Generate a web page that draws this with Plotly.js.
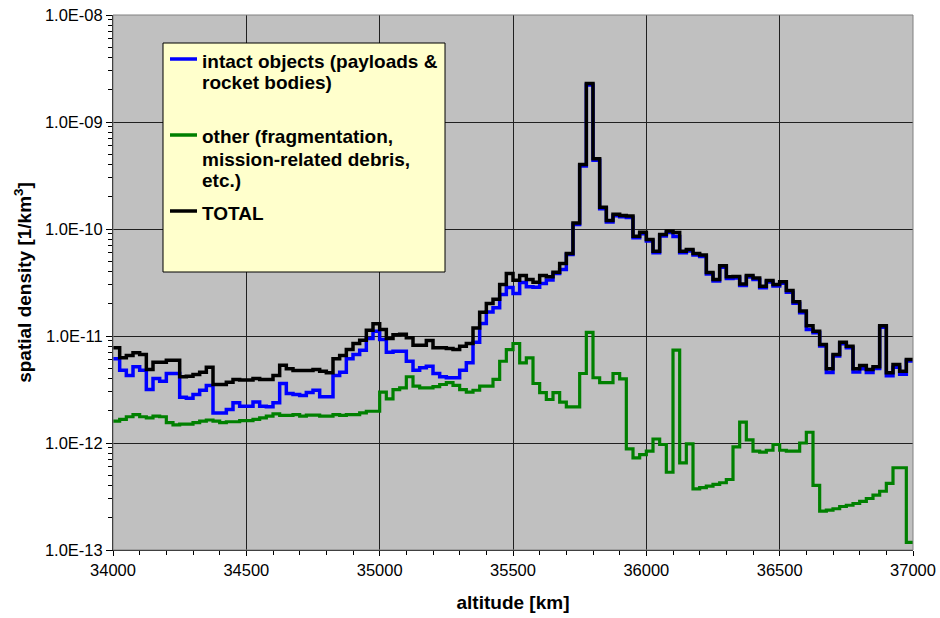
<!DOCTYPE html>
<html>
<head>
<meta charset="utf-8">
<script src="https://cdn.plot.ly/plotly-3.0.1.min.js"></script>
<style>
  html, body { margin: 0; padding: 0; background: #ffffff; }
  #chart { width: 940px; height: 618px; }
</style>
</head>
<body>
<div id="chart"></div>
<script>
// Altitude bin starts [km], 25 km bins, plus the closing edge 37000
const altitude = [
  34000,34025,34050,34075,34100,34125,34150,34175,34200,34225,
  34250,34275,34300,34325,34350,34375,34400,34425,34450,34475,
  34500,34525,34550,34575,34600,34625,34650,34675,34700,34725,
  34750,34775,34800,34825,34850,34875,34900,34925,34950,34975,
  35000,35025,35050,35075,35100,35125,35150,35175,35200,35225,
  35250,35275,35300,35325,35350,35375,35400,35425,35450,35475,
  35500,35525,35550,35575,35600,35625,35650,35675,35700,35725,
  35750,35775,35800,35825,35850,35875,35900,35925,35950,35975,
  36000,36025,36050,36075,36100,36125,36150,36175,36200,36225,
  36250,36275,36300,36325,36350,36375,36400,36425,36450,36475,
  36500,36525,36550,36575,36600,36625,36650,36675,36700,36725,
  36750,36775,36800,36825,36850,36875,36900,36925,36950,36975,
  37000
];

// intact objects (payloads & rocket bodies) [1/km^3]
const intact = [
  6.12e-12,4.79e-12,4.28e-12,5.15e-12,4.79e-12,3.16e-12,4.01e-12,3.78e-12,4.46e-12,4.46e-12,
  2.68e-12,2.62e-12,2.84e-12,3.11e-12,3.45e-12,1.91e-12,1.91e-12,2.06e-12,2.38e-12,2.21e-12,
  2.21e-12,2.41e-12,2.21e-12,2.18e-12,2.38e-12,3.60e-12,2.90e-12,2.84e-12,2.78e-12,2.96e-12,
  3.11e-12,2.70e-12,2.70e-12,4.28e-12,4.59e-12,6.12e-12,6.71e-12,7.37e-12,9.48e-12,1.11e-11,
  9.27e-12,7.06e-12,7.21e-12,7.21e-12,5.81e-12,4.79e-12,5.04e-12,5.21e-12,4.46e-12,4.16e-12,
  4.07e-12,4.07e-12,4.79e-12,5.61e-12,8.75e-12,1.31e-11,1.68e-11,1.84e-11,2.44e-11,2.84e-11,
  2.50e-11,3.16e-11,2.88e-11,2.86e-11,3.10e-11,3.33e-11,3.84e-11,4.19e-11,5.78e-11,1.10e-10,
  3.88e-10,2.22e-9,4.38e-10,1.55e-10,1.16e-10,1.33e-10,1.30e-10,1.28e-10,8.28e-11,9.03e-11,
  7.71e-11,6.00e-11,8.59e-11,9.27e-11,8.50e-11,6.00e-11,6.22e-11,5.71e-11,5.53e-11,3.80e-11,
  3.26e-11,4.38e-11,3.45e-11,3.48e-11,2.97e-11,3.56e-11,3.38e-11,2.83e-11,3.19e-11,2.93e-11,
  3.11e-11,2.57e-11,2.02e-11,1.65e-11,1.15e-11,1.07e-11,8.05e-12,4.55e-12,6.49e-12,8.47e-12,
  7.77e-12,4.60e-12,4.95e-12,4.55e-12,4.98e-12,1.21e-11,4.25e-12,5.10e-12,4.40e-12,5.83e-12
];

// other (fragmentation, mission-related debris, etc.) [1/km^3]
const other = [
  1.60e-12,1.66e-12,1.76e-12,1.84e-12,1.76e-12,1.72e-12,1.78e-12,1.76e-12,1.55e-12,1.48e-12,
  1.50e-12,1.50e-12,1.55e-12,1.60e-12,1.64e-12,1.60e-12,1.55e-12,1.58e-12,1.58e-12,1.62e-12,
  1.62e-12,1.66e-12,1.72e-12,1.78e-12,1.87e-12,1.81e-12,1.81e-12,1.84e-12,1.78e-12,1.82e-12,
  1.82e-12,1.78e-12,1.78e-12,1.84e-12,1.81e-12,1.84e-12,1.84e-12,1.91e-12,1.98e-12,1.98e-12,
  2.99e-12,2.58e-12,3.16e-12,3.28e-12,4.16e-12,3.40e-12,3.28e-12,3.28e-12,3.36e-12,3.52e-12,
  3.66e-12,3.45e-12,3.16e-12,2.99e-12,3.11e-12,3.40e-12,3.40e-12,3.93e-12,5.81e-12,7.47e-12,
  8.51e-12,5.61e-12,6.25e-12,3.60e-12,2.96e-12,2.55e-12,2.96e-12,2.41e-12,2.18e-12,2.18e-12,
  4.46e-12,1.08e-11,4.07e-12,3.66e-12,3.66e-12,4.46e-12,3.98e-12,8.83e-13,7.27e-13,7.80e-13,
  8.38e-13,1.09e-12,9.68e-13,5.33e-13,7.37e-12,6.53e-13,9.83e-13,3.73e-13,3.82e-13,3.95e-13,
  4.10e-13,4.25e-13,4.56e-13,9.21e-13,1.57e-12,1.07e-12,8.38e-13,8.20e-13,8.56e-13,9.68e-13,
  8.56e-13,8.38e-13,8.38e-13,1.00e-12,1.26e-12,4.01e-13,2.31e-13,2.36e-13,2.43e-13,2.55e-13,
  2.62e-13,2.72e-13,2.85e-13,3.03e-13,3.26e-13,3.54e-13,4.19e-13,5.87e-13,5.87e-13,1.18e-13
];

// TOTAL [1/km^3]
const total = [
  7.75e-12,6.25e-12,6.57e-12,6.96e-12,6.71e-12,4.87e-12,5.69e-12,5.69e-12,5.94e-12,5.94e-12,
  4.16e-12,4.21e-12,4.37e-12,4.59e-12,5.11e-12,3.52e-12,3.52e-12,3.70e-12,3.93e-12,3.87e-12,
  3.87e-12,4.01e-12,3.93e-12,3.93e-12,4.28e-12,5.33e-12,4.94e-12,4.76e-12,4.76e-12,4.76e-12,
  4.87e-12,4.69e-12,4.53e-12,6.12e-12,6.57e-12,7.47e-12,8.51e-12,9.14e-12,1.13e-11,1.30e-11,
  1.15e-11,9.48e-12,1.03e-11,1.04e-11,9.62e-12,8.20e-12,8.20e-12,9.08e-12,7.75e-12,7.75e-12,
  7.64e-12,7.47e-12,8.03e-12,8.51e-12,1.19e-11,1.67e-11,2.01e-11,2.20e-11,3.03e-11,3.84e-11,
  3.32e-11,3.68e-11,3.37e-11,3.18e-11,3.68e-11,3.57e-11,3.95e-11,4.76e-11,5.90e-11,1.14e-10,
  4.01e-10,2.29e-9,4.53e-10,1.60e-10,1.20e-10,1.37e-10,1.34e-10,1.32e-10,8.56e-11,9.33e-11,
  7.97e-11,6.20e-11,8.88e-11,9.58e-11,9.27e-11,6.20e-11,6.43e-11,5.90e-11,5.72e-11,3.93e-11,
  3.37e-11,4.53e-11,3.57e-11,3.60e-11,3.07e-11,3.68e-11,3.49e-11,2.92e-11,3.30e-11,3.03e-11,
  3.21e-11,2.66e-11,2.09e-11,1.71e-11,1.25e-11,1.11e-11,8.32e-12,4.94e-12,6.71e-12,8.75e-12,
  8.03e-12,4.94e-12,5.30e-12,4.87e-12,5.15e-12,1.25e-11,4.53e-12,5.41e-12,4.69e-12,6.03e-12
];

const yTickVals = [1e-13, 1e-12, 1e-11, 1e-10, 1e-9, 1e-8];
const yTickText = ["1.0E-13", "1.0E-12", "1.0E-11", "1.0E-10", "1.0E-09", "1.0E-08"];
const xTickVals = [34000, 34500, 35000, 35500, 36000, 36500, 37000];

const legendLabels = {
  intact: ["intact objects (payloads &", "rocket bodies)"],
  other: ["other (fragmentation,", "mission-related debris,", "etc.)"],
  total: ["TOTAL"]
};

// step series: repeat the last bin value at the closing edge
function closed(vals) { return vals.concat([vals[vals.length - 1]]); }

const FONT = '"Liberation Sans", Arial, sans-serif';

const traces = [
  { x: altitude, y: closed(other), type: 'scatter', mode: 'lines',
    line: { shape: 'hv', color: '#008000', width: 3.2 }, name: 'other', showlegend: false, hoverinfo: 'x+y' },
  { x: altitude, y: closed(intact), type: 'scatter', mode: 'lines',
    line: { shape: 'hv', color: '#0000FF', width: 3.5 }, name: 'intact', showlegend: false, hoverinfo: 'x+y' },
  { x: altitude, y: closed(total), type: 'scatter', mode: 'lines',
    line: { shape: 'hv', color: '#000000', width: 3.5 }, name: 'TOTAL', showlegend: false, hoverinfo: 'x+y' }
];

// minor log ticks
const minorY = [];
for (let e = -13; e < -8; e++) for (let m = 2; m <= 9; m++) minorY.push(m * Math.pow(10, e));

// legend drawn as box + line samples + text lines
function py(pix) { return 1 - (pix - 15) / 535; }
function px(pix) { return (pix - 113) / 800; }

const legendEntries = [
  { color: '#0000FF', lineY: 59, lines: legendLabels.intact, textY: [61, 83] },
  { color: '#008000', lineY: 135, lines: legendLabels.other, textY: [137, 159, 181] },
  { color: '#000000', lineY: 211, lines: legendLabels.total, textY: [213] }
];

const shapes = [
  { type: 'rect', xref: 'paper', yref: 'paper', x0: 0, x1: 1, y0: 0, y1: 1,
    line: { color: '#808080', width: 1 }, fillcolor: 'rgba(0,0,0,0)', layer: 'above' },
  { type: 'rect', xref: 'paper', yref: 'paper', x0: px(163), x1: px(445), y0: py(272), y1: py(43),
    line: { color: '#000000', width: 1 }, fillcolor: '#FFFFCC', layer: 'above' }
];
const annotations = [];
legendEntries.forEach(function (en) {
  shapes.push({ type: 'line', xref: 'paper', yref: 'paper', x0: px(170), x1: px(197),
    y0: py(en.lineY), y1: py(en.lineY), line: { color: en.color, width: 3.5 }, layer: 'above' });
  en.lines.forEach(function (t, k) {
    annotations.push({ xref: 'paper', yref: 'paper', x: px(200), y: py(en.textY[k]),
      xanchor: 'left', yanchor: 'middle', showarrow: false, text: '<b>' + t + '</b>',
      font: { family: FONT, size: 19, color: '#000000' } });
  });
});

const layout = {
  width: 940, height: 618,
  margin: { l: 113, r: 27, t: 15, b: 68, pad: 0 },
  paper_bgcolor: '#FFFFFF',
  plot_bgcolor: '#C0C0C0',
  font: { family: FONT, size: 16, color: '#000000' },
  showlegend: false,
  xaxis: {
    type: 'linear', range: [34000, 37000],
    tickvals: xTickVals, ticktext: xTickVals.map(String),
    ticks: 'outside', ticklen: 5, tickcolor: '#000', tickwidth: 1,
    showgrid: true, gridcolor: '#202020', gridwidth: 1,
    showline: true, linecolor: '#000', linewidth: 1,
    zeroline: false,
    minor: { dtick: 100, ticks: 'outside', ticklen: 4, tickcolor: '#000', showgrid: false },
    tickfont: { family: FONT, size: 16.5 },
    title: { text: '<b>altitude [km]</b>', font: { family: FONT, size: 19 }, standoff: 17 }
  },
  yaxis: {
    type: 'log', range: [-13, -8],
    tickvals: yTickVals, ticktext: yTickText,
    ticks: 'outside', ticklen: 6, tickcolor: '#000', tickwidth: 1,
    showgrid: true, gridcolor: '#202020', gridwidth: 1,
    showline: true, linecolor: '#000', linewidth: 1,
    zeroline: false,
    minor: { tickmode: 'array', tickvals: minorY, ticks: 'outside', ticklen: 4, tickcolor: '#000', showgrid: false },
    tickfont: { family: FONT, size: 16.5 },
    title: { text: '<b>spatial density [1/km<sup>3</sup>]</b>', font: { family: FONT, size: 19 }, standoff: 8 }
  },
  shapes: shapes,
  annotations: annotations
};

Plotly.newPlot('chart', traces, layout, { displayModeBar: false, staticPlot: true });
</script>
</body>
</html>
